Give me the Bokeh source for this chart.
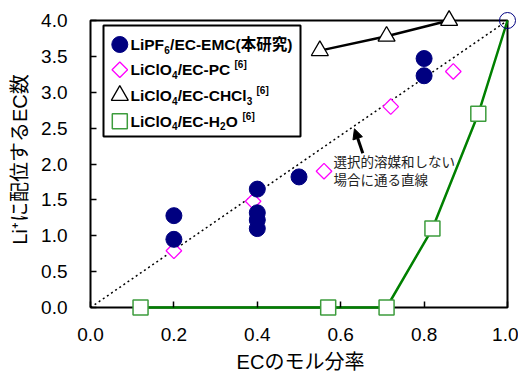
import math
from bokeh.plotting import figure
from bokeh.models import FixedTicker, PrintfTickFormatter, Arrow, NormalHead, Range1d
from bokeh.core.properties import value
from bokeh.embed import file_html
from bokeh.resources import INLINE

# ---------------- data ----------------
emc_x = [0.2, 0.2, 0.4, 0.4, 0.4, 0.4, 0.5, 0.8, 0.8]
emc_y = [1.28, 0.95, 1.65, 1.32, 1.22, 1.10, 1.82, 3.47, 3.23]
pure_x = [1.0]
pure_y = [4.0]
pc_x = [0.2, 0.39, 0.56, 0.72, 0.87]
pc_y = [0.79, 1.48, 1.90, 2.80, 3.29]
chcl3_x = [0.55, 0.71, 0.86]
chcl3_y = [3.58, 3.78, 4.0]
h2o_x = [0.12, 0.57, 0.71, 0.82, 0.93, 1.0]
h2o_y = [0.0, 0.0, 0.0, 1.1, 2.7, 4.0]
ideal_x = [0.0, 1.0]
ideal_y = [0.0, 4.0]

x_ticks = [0.0, 0.2, 0.4, 0.6, 0.8, 1.0]
y_ticks = [0.0, 0.5, 1.0, 1.5, 2.0, 2.5, 3.0, 3.5, 4.0]

x_label = "ECのモル分率"
y_label = "Li⁺に配位するEC数"
note_lines = ["選択的溶媒和しない", "場合に通る直線"]
note_x = [0.583, 0.583]
note_y = [2.02, 1.77]

# legend pieces: (text, kind) kind: m=main, b=subscript, p=superscript
legend_rows = [
    [("LiPF", "m"), ("6", "b"), ("/EC-EMC(本研究)", "m")],
    [("LiClO", "m"), ("4", "b"), ("/EC-PC", "m"), ("[6]", "p")],
    [("LiClO", "m"), ("4", "b"), ("/EC-CHCl", "m"), ("3", "b"), ("[6]", "p")],
    [("LiClO", "m"), ("4", "b"), ("/EC-H", "m"), ("2", "b"), ("O", "m"), ("[6]", "p")],
]
# horizontal pixel offsets of each piece from text start (layout)
legend_dx = [
    [0, 33.8, 39.6],
    [0, 41.5, 47.2, 104],
    [0, 41.5, 47.2, 116.3, 126],
    [0, 41.5, 47.2, 89.5, 95.2, 112],
]

# ---------------- layout ----------------
FIG_W, FIG_H = 518, 381
BOX_L, BOX_R, BOX_T, BOX_B = 90, 507, 20, 307      # plotting box in page px
PAD_L, PAD_R, PAD_T, PAD_B = 8, 11, 18, 9          # room so edge markers are not clipped
W = BOX_R - BOX_L
H = BOX_B - BOX_T
X0, X1 = x_ticks[0], x_ticks[-1]
Y0, Y1 = y_ticks[0], y_ticks[-1]
xs = (X1 - X0) / W
ys = (Y1 - Y0) / H


def fx(px):
    return X0 + px * xs


def fy(py):
    return Y1 - py * ys


FONT = "Liberation Sans, Noto Sans CJK JP"
TICK = 6

p = figure(width=FIG_W, height=FIG_H, output_backend="svg", toolbar_location=None,
           x_range=Range1d(X0 - PAD_L * xs, X1 + PAD_R * xs),
           y_range=Range1d(Y0 - PAD_B * ys, Y1 + PAD_T * ys),
           min_border_left=BOX_L - PAD_L, min_border_right=FIG_W - BOX_R - PAD_R,
           min_border_top=BOX_T - PAD_T, min_border_bottom=FIG_H - BOX_B - PAD_B)
p.grid.visible = False
p.outline_line_color = None
p.background_fill_color = "white"
p.border_fill_color = "white"

for ax, ticks, pad in ((p.xaxis, x_ticks, PAD_B), (p.yaxis, y_ticks, PAD_L)):
    ax.ticker = FixedTicker(ticks=ticks)
    ax.formatter = PrintfTickFormatter(format="%.1f")
    # the axis sits at the frame edge; shift ticks inward to the box edge
    ax.major_tick_in = pad + TICK
    ax.major_tick_out = -pad
    ax.minor_tick_in = 0
    ax.minor_tick_out = 0
    ax.minor_tick_line_color = None
    ax.axis_line_color = None
    ax.major_tick_line_width = 1.5
    ax.major_tick_line_color = "black"
    ax.major_label_text_font = "Liberation Sans"
    ax.major_label_text_font_size = "19px"
    ax.major_label_text_color = "black"
    ax.axis_label_text_font = FONT
    ax.axis_label_text_font_size = "20px"
    ax.axis_label_text_font_style = "normal"
    ax.axis_label_text_color = "black"

p.xaxis.axis_label = x_label
p.yaxis.axis_label = y_label
p.xaxis.major_label_standoff = 20 - PAD_B
p.xaxis.axis_label_standoff = 7
p.yaxis.major_label_standoff = 23 - PAD_L
p.yaxis.axis_label_standoff = 7

# the box around the plotting area (drawn under the markers)
p.line([X0, X1, X1, X0, X0], [Y0, Y0, Y1, Y1, Y0], line_color="black", line_width=2)

# ideal line
p.line(ideal_x, ideal_y, line_color="black", line_width=1.5, line_dash="2 3")

# series
p.line(h2o_x, h2o_y, line_color="#008000", line_width=2.5)
p.scatter(h2o_x[:-1], h2o_y[:-1], marker="square", size=15, fill_color="white",
          line_color="#3c9c3c", line_width=1.5)
p.line(chcl3_x, chcl3_y, line_color="black", line_width=2.5)
p.scatter(chcl3_x, chcl3_y, marker="triangle", size=17, fill_color="white",
          line_color="black", line_width=1.3)
p.scatter(pc_x, pc_y, marker="square", angle=math.pi / 4, size=11, fill_color="white",
          line_color="#ff00ff", line_width=1.3)
p.scatter(emc_x, emc_y, marker="circle", size=16, fill_color="#000080", line_color="#000080")
p.scatter(pure_x, pure_y, marker="circle", size=16, fill_color=None, line_color="#000080",
          line_width=1)

# annotation
p.add_layout(Arrow(end=NormalHead(size=10, fill_color="black", line_color="black"),
                   x_start=0.653, y_start=2.15, x_end=0.633, y_end=2.49,
                   line_width=3, line_color="black"))
p.text(x=note_x, y=note_y, text=note_lines, text_font=value(FONT),
       text_font_size="13.5px", text_align="left", text_baseline="middle",
       text_color="#222222")

# legend (manual, to allow sub/superscripts)
p.quad(left=[fx(13)], right=[fx(210)], top=[fy(5)], bottom=[fy(116)],
       fill_color="white", line_color="black", line_width=2)
row_dy = [24, 49.3, 75, 100.7]
mx = fx(29.3)
p.scatter([mx], [fy(row_dy[0])], marker="circle", size=16, fill_color="#000080",
          line_color="#000080")
p.scatter([mx], [fy(row_dy[1])], marker="square", angle=math.pi / 4, size=11,
          fill_color="white", line_color="#ff00ff", line_width=1.3)
p.scatter([mx], [fy(row_dy[2])], marker="triangle", size=17, fill_color="white",
          line_color="black", line_width=1.3)
p.scatter([mx], [fy(row_dy[3])], marker="square", size=15, fill_color="white",
          line_color="#3c9c3c", line_width=1.5)

groups = {"m": ([], [], []), "b": ([], [], []), "p": ([], [], [])}
shift = {"m": 0, "b": 5, "p": -5}
for r, (row, dxs) in enumerate(zip(legend_rows, legend_dx)):
    for (txt, kind), dx in zip(row, dxs):
        gx, gy, gt = groups[kind]
        gx.append(fx(40 + dx))
        gy.append(fy(row_dy[r] + shift[kind]))
        gt.append(txt)
sizes = {"m": "15.5px", "b": "10px", "p": "10px"}
for kind, (gx, gy, gt) in groups.items():
    p.text(x=gx, y=gy, text=gt, text_font=value(FONT), text_font_size=sizes[kind],
           text_font_style="bold", text_align="left", text_baseline="middle",
           text_color="black")

open("out.html", "w").write(file_html(p, INLINE))
